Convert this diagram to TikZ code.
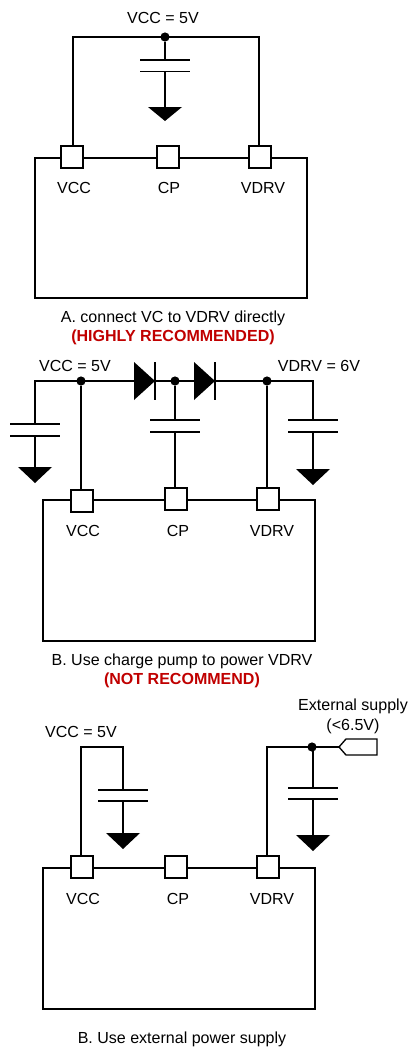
\documentclass[tikz,border=0pt]{standalone}
\usepackage{fontspec}
\setmainfont{Liberation Sans}
\definecolor{warnred}{HTML}{C00000}
\tikzset{
	wire/.style={black,line width=0.95pt},
	pad/.style={draw=black,line width=0.95pt,fill=white,minimum size=0.55cm,inner sep=0pt},
	plate/.style={fill=black,minimum width=1.25cm,minimum height=0.95pt,inner sep=0pt},
	dot/.style={circle,fill=black,minimum size=0.23cm,inner sep=0pt},
	gnd/.style={fill=black},
	lbl/.style={inner sep=0pt,font=\fontsize{11.4}{13}\selectfont},
	warn/.style={lbl,text=warnred,font=\fontsize{11.4}{13}\selectfont\bfseries}
}
\begin{document}
\begin{tikzpicture}[x=0.025cm,y=0.025cm]
	\useasboundingbox (0,0) rectangle (409,-1047);
	% direct connection
	\draw [wire] (35,-158) rectangle (307,-298);
	\node [pad] (vcca) at (72,-157) {};
	\node [pad] (cpa) at (168,-157) {};
	\node [pad] (vdrva) at (260,-157) {};
	\node [lbl] (vccna) at (74,-188) {VCC};
	\node [lbl] (cpna) at (169,-188) {CP};
	\node [lbl] (vdrvna) at (263,-188) {VDRV};
	\node [lbl] (supa) at (163,-18) {VCC = 5V};
	\node [lbl] (capta) at (173,-318) {A. connect VC to VDRV directly};
	\node [warn] (warna) at (173,-337) {(HIGHLY RECOMMENDED)};
	\coordinate (la) at (73,-37);
	\coordinate (ra) at (259,-37);
	\coordinate (ga) at (165,-107);
	\node [dot] (da) at (165,-37) {};
	\node [plate] (c1a) at (165,-60) {};
	\node [plate] (c2a) at (165,-71.5) {};
	\draw [wire] (la |- vcca.north) -- (la) -- (ra) -- (ra |- vdrva.north);
	\draw [wire] (da) -- (c1a);
	\draw [wire] (c2a) -- (ga);
	\fill [gnd] (ga) -- ++(-17,0) -- ++(17,-14) -- ++(17,14) -- cycle;
	% charge pump
	\draw [wire] (43,-500) rectangle (315,-641);
	\node [pad] (vccb) at (82,-501) {};
	\node [pad] (cpb) at (176,-499) {};
	\node [pad] (vdrvb) at (268,-499) {};
	\node [lbl] (vccnb) at (83,-531) {VCC};
	\node [lbl] (cpnb) at (178,-531) {CP};
	\node [lbl] (vdrvnb) at (272,-531) {VDRV};
	\node [lbl] (supb) at (75,-366) {VCC = 5V};
	\node [lbl] (supdb) at (319,-366) {VDRV = 6V};
	\node [lbl] (captb) at (182,-661) {B. Use charge pump to power VDRV};
	\node [warn] (warnb) at (182,-680) {(NOT RECOMMEND)};
	\coordinate (lb) at (35,-381);
	\coordinate (rb) at (313,-381);
	\coordinate (d1b) at (134,-381);
	\coordinate (d2b) at (194,-381);
	\coordinate (g1b) at (35,-467);
	\coordinate (g2b) at (313,-469);
	\node [dot] (dab) at (81,-381) {};
	\node [dot] (dbb) at (175,-381) {};
	\node [dot] (dcb) at (267,-381) {};
	\node [plate] (c1b) at (35,-424) {};
	\node [plate] (c2b) at (35,-436) {};
	\node [plate] (c3b) at (175,-420) {};
	\node [plate] (c4b) at (175,-432) {};
	\node [plate] (c5b) at (313,-420) {};
	\node [plate] (c6b) at (313,-432) {};
	\draw [wire] (c1b) -- (lb) -- (rb) -- (c5b);
	\draw [wire] (c2b) -- (g1b);
	\draw [wire] (c6b) -- (g2b);
	\draw [wire] (dab) -- (dab |- vccb.north);
	\draw [wire] (dbb) -- (c3b);
	\draw [wire] (c4b) -- (c4b |- cpb.north);
	\draw [wire] (dcb) -- (dcb |- vdrvb.north);
	\fill [gnd] (d1b) ++(0,19) -- ++(21,-19) -- ++(-21,-19) -- cycle;
	\draw [wire] (d1b) ++(21,19) -- ++(0,-38);
	\fill [gnd] (d2b) ++(0,19) -- ++(21,-19) -- ++(-21,-19) -- cycle;
	\draw [wire] (d2b) ++(21,19) -- ++(0,-38);
	\fill [gnd] (g1b) -- ++(-17,0) -- ++(17,-16) -- ++(17,16) -- cycle;
	\fill [gnd] (g2b) -- ++(-17,0) -- ++(17,-16) -- ++(17,16) -- cycle;
	% external supply
	\draw [wire] (43,-868) rectangle (315,-1009);
	\node [pad] (vccc) at (82,-867) {};
	\node [pad] (cpc) at (176,-867) {};
	\node [pad] (vdrvc) at (268,-867) {};
	\node [lbl] (vccnc) at (83,-899) {VCC};
	\node [lbl] (cpnc) at (178,-899) {CP};
	\node [lbl] (vdrvnc) at (272,-899) {VDRV};
	\node [lbl] (supc) at (81,-732) {VCC = 5V};
	\node [lbl] (extc) at (353,-706.5) {External supply};
	\node [lbl] (limc) at (353,-726) {(<6.5V)};
	\node [lbl] (captc) at (182,-1039) {B. Use external power supply};
	\coordinate (lc) at (81,-747);
	\coordinate (mc) at (123,-747);
	\coordinate (rc) at (267,-747);
	\coordinate (tipc) at (339,-747);
	\coordinate (g1c) at (123,-833);
	\coordinate (g2c) at (313,-835);
	\node [dot] (dc) at (312,-747) {};
	\node [plate] (c1c) at (123,-790) {};
	\node [plate] (c2c) at (123,-801) {};
	\node [plate] (c3c) at (313,-788) {};
	\node [plate] (c4c) at (313,-799) {};
	\draw [wire] (lc |- vccc.north) -- (lc) -- (mc) -- (c1c);
	\draw [wire] (c2c) -- (g1c);
	\draw [wire] (rc |- vdrvc.north) -- (rc) -- (tipc);
	\draw [wire] (c3c |- dc) -- (c3c);
	\draw [wire] (c4c) -- (g2c);
	\draw [wire] (tipc) -- ++(7,8) -- ++(31,0) -- ++(0,-16) -- ++(-31,0) -- cycle;
	\fill [gnd] (g1c) -- ++(-17,0) -- ++(17,-16) -- ++(17,16) -- cycle;
	\fill [gnd] (g2c) -- ++(-17,0) -- ++(17,-16) -- ++(17,16) -- cycle;
\end{tikzpicture}
\end{document}
